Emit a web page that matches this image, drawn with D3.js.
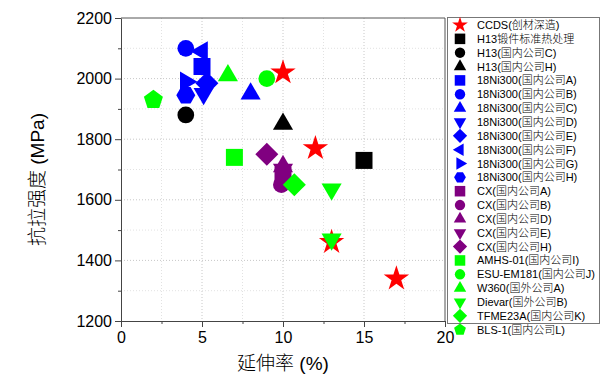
<!DOCTYPE html>
<html>
<head>
<meta charset="utf-8">
<script src="https://cdn.jsdelivr.net/npm/d3@7"></script>
<style>
  body { margin: 0; background: #fff; }
  svg { font-family: "Liberation Sans", Arial, "Noto Sans CJK SC", sans-serif; }
</style>
</head>
<body>
<svg width="606" height="378"></svg>
<script>
// data: [elongation %, tensile strength MPa]
const ccds      = [[10, 2020], [12, 1770], [13, 1460], [17, 1340]];
const h13Std    = [[15, 1730]];
const h13C      = [[4, 1880]];
const h13H      = [[10, 1850]];
const ni300A    = [[5, 2040]];
const ni300B    = [[4, 2100]];
const ni300C    = [[8, 1950]];
const ni300D    = [[5.1, 1950]];
const ni300E    = [[5.3, 1985]];
const ni300F    = [[5, 2090]];
const ni300G    = [[4, 1990]];
const ni300H    = [[4, 1945]];
const cxA       = [[10, 1680]];
const cxB       = [[9.9, 1650]];
const cxD       = [[10, 1710]];
const cxE       = [[10, 1700]];
const cxH       = [[9, 1750]];
const amhs      = [[7, 1740]];
const esu       = [[9, 2000]];
const w360      = [[6.6, 2010]];
const dievar    = [[13, 1635], [13, 1470]];
const tfme      = [[10.7, 1650]];
const bls       = [[2, 1930]];

const xTicks = [0, 5, 10, 15, 20];
const yTicks = [1200, 1400, 1600, 1800, 2000, 2200];

const RED = "#ff0000", BLK = "#000000", BLU = "#0000ff", PUR = "#800080", GRN = "#00ff00";

const series = [
  { name: "CCDS(创材深造)", data: ccds, shape: "star", color: RED },
  { name: "H13锻件标准热处理", data: h13Std, shape: "square", color: BLK },
  { name: "H13(国内公司C)", data: h13C, shape: "circle", color: BLK },
  { name: "H13(国内公司H)", data: h13H, shape: "up", color: BLK },
  { name: "18Ni300(国内公司A)", data: ni300A, shape: "square", color: BLU },
  { name: "18Ni300(国内公司B)", data: ni300B, shape: "circle", color: BLU },
  { name: "18Ni300(国内公司C)", data: ni300C, shape: "up", color: BLU },
  { name: "18Ni300(国内公司D)", data: ni300D, shape: "down", color: BLU },
  { name: "18Ni300(国内公司E)", data: ni300E, shape: "diamond", color: BLU },
  { name: "18Ni300(国内公司F)", data: ni300F, shape: "left", color: BLU },
  { name: "18Ni300(国内公司G)", data: ni300G, shape: "right", color: BLU },
  { name: "18Ni300(国内公司H)", data: ni300H, shape: "hexagon", color: BLU },
  { name: "CX(国内公司A)", data: cxA, shape: "square", color: PUR },
  { name: "CX(国内公司B)", data: cxB, shape: "circle", color: PUR },
  { name: "CX(国内公司D)", data: cxD, shape: "up", color: PUR },
  { name: "CX(国内公司E)", data: cxE, shape: "down", color: PUR },
  { name: "CX(国内公司H)", data: cxH, shape: "diamond", color: PUR },
  { name: "AMHS-01(国内公司I)", data: amhs, shape: "square", color: GRN },
  { name: "ESU-EM181(国内公司J)", data: esu, shape: "circle", color: GRN },
  { name: "W360(国外公司A)", data: w360, shape: "up", color: GRN },
  { name: "Dievar(国外公司B)", data: dievar, shape: "down", color: GRN },
  { name: "TFME23A(国内公司K)", data: tfme, shape: "diamond", color: GRN },
  { name: "BLS-1(国内公司L)", data: bls, shape: "pentagon", color: GRN }
];

// polygon path of n vertices, radius r, starting angle a0 (radians, 0 = up)
function polygon(n, r, a0) {
  const p = d3.path();
  for (let i = 0; i < n; i++) {
    const a = a0 + i * 2 * Math.PI / n;
    const px = r * Math.sin(a), py = -r * Math.cos(a);
    if (i === 0) p.moveTo(px, py); else p.lineTo(px, py);
  }
  p.closePath();
  return p.toString();
}

// k scales the marker (1 = plot, smaller in legend)
function marker(shape, k) {
  switch (shape) {
    case "star": return { d: d3.symbol(d3.symbolStar, 200 * k * k)(), rot: 0 };
    case "square": return { d: d3.symbol(d3.symbolSquare, 289 * k * k)(), rot: 0 };
    case "circle": return { d: d3.symbol(d3.symbolCircle, 220 * k * k)(), rot: 0 };
    case "diamond": return { d: d3.symbol(d3.symbolSquare, 265 * k * k)(), rot: 45 };
    case "up": return { d: d3.symbol(d3.symbolTriangle, 175 * k * k)(), rot: 0 };
    case "down": return { d: d3.symbol(d3.symbolTriangle, 175 * k * k)(), rot: 180 };
    case "left": return { d: d3.symbol(d3.symbolTriangle, 175 * k * k)(), rot: -90 };
    case "right": return { d: d3.symbol(d3.symbolTriangle, 175 * k * k)(), rot: 90 };
    case "hexagon": return { d: polygon(6, 9.5 * k, Math.PI / 2), rot: 0 };
    case "pentagon": return { d: polygon(5, 10 * k, 0), rot: 0 };
  }
}

const svg = d3.select("svg");
const pLeft = 121, pRight = 445, pTop = 18, pBottom = 321;

const x = d3.scaleLinear().domain([0, 20]).range([pLeft, pRight]);
const y = d3.scaleLinear().domain([1200, 2200]).range([pBottom, pTop]);

// grid (major + minor, dotted)
const grid = svg.append("g");
d3.range(2.5, 20, 2.5).forEach(v => {
  grid.append("line")
    .attr("x1", x(v)).attr("x2", x(v)).attr("y1", pTop).attr("y2", pBottom)
    .attr("stroke", v % 5 === 0 ? "#c8c8c8" : "#e2e2e2")
    .attr("stroke-dasharray", "1,2");
});
d3.range(1300, 2200, 100).forEach(v => {
  grid.append("line")
    .attr("x1", pLeft).attr("x2", pRight).attr("y1", y(v)).attr("y2", y(v))
    .attr("stroke", v % 200 === 0 ? "#c8c8c8" : "#e2e2e2")
    .attr("stroke-dasharray", "1,2");
});

// frame top and right
svg.append("path")
  .attr("d", `M${pLeft},${pTop}H${pRight}V${pBottom}`)
  .attr("fill", "none").attr("stroke", "#555").attr("stroke-width", 1);

// minor ticks
svg.append("g")
  .attr("transform", `translate(0,${pBottom})`)
  .call(d3.axisBottom(x).tickValues(d3.range(2.5, 20, 5)).tickSize(3).tickFormat(""))
  .call(g => g.select(".domain").remove())
  .selectAll("line").attr("stroke", "#444");
svg.append("g")
  .attr("transform", `translate(${pLeft},0)`)
  .call(d3.axisLeft(y).tickValues(d3.range(1300, 2200, 200)).tickSize(3).tickFormat(""))
  .call(g => g.select(".domain").remove())
  .selectAll("line").attr("stroke", "#444");

// major axes
const xAxis = svg.append("g")
  .attr("transform", `translate(0,${pBottom})`)
  .call(d3.axisBottom(x).tickValues(xTicks).tickSize(6).tickSizeOuter(0).tickPadding(5)
    .tickFormat(d3.format("d")));
const yAxis = svg.append("g")
  .attr("transform", `translate(${pLeft},0)`)
  .call(d3.axisLeft(y).tickValues(yTicks).tickSize(6).tickSizeOuter(0).tickPadding(3)
    .tickFormat(d3.format("d")));
[xAxis, yAxis].forEach(g => {
  g.selectAll("path, line").attr("stroke", "#444");
  g.selectAll("text").attr("font-size", 16).attr("fill", "#000")
    .attr("font-family", "'Liberation Sans', Arial, sans-serif");
});

// axis titles
svg.append("text")
  .attr("x", x(10)).attr("y", 370)
  .attr("text-anchor", "middle").attr("font-size", 19).attr("font-weight", 300)
  .text("延伸率 (%)");
svg.append("text")
  .attr("transform", `translate(44,${(pTop + pBottom) / 2 + 10}) rotate(-90)`)
  .attr("text-anchor", "middle").attr("font-size", 19).attr("font-weight", 300)
  .text("抗拉强度 (MPa)");

// points
const pts = svg.append("g");
series.forEach(s => {
  const m = marker(s.shape, 1);
  pts.selectAll(null)
    .data(s.data)
    .enter().append("path")
    .attr("d", m.d)
    .attr("transform", d => `translate(${x(d[0])},${y(d[1])}) rotate(${m.rot})`)
    .attr("fill", s.color);
});

// legend
const lg = svg.append("g");
lg.append("rect")
  .attr("x", 447.5).attr("y", 17.5).attr("width", 152).attr("height", 306)
  .attr("fill", "#fff").attr("stroke", "#777");
series.forEach((s, i) => {
  const yy = 25 + i * 13.85;
  const m = marker(s.shape, 0.62);
  lg.append("path")
    .attr("d", m.d)
    .attr("transform", `translate(460,${yy}) rotate(${m.rot})`)
    .attr("fill", s.color);
  lg.append("text")
    .attr("x", 477).attr("y", yy + 4)
    .attr("font-size", 11).attr("font-weight", 300)
    .text(s.name);
});
</script>
</body>
</html>
